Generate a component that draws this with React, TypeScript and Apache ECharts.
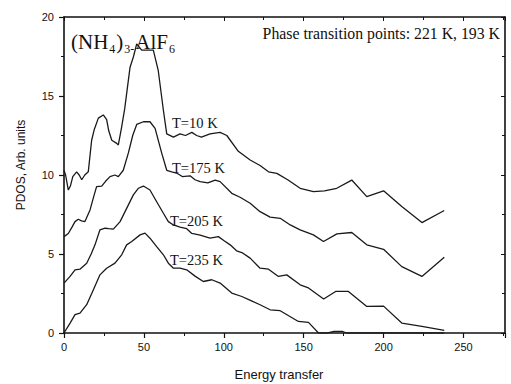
import React, { useEffect, useRef } from "react";
import * as echarts from "echarts";

const xTickLabels = ["0", "50", "100", "150", "200", "250"];
const yTickLabels = ["0", "5", "10", "15", "20"];

const t10: [number, number][] = [
  [0, 10.3], [1, 10.0], [2.7, 9.05], [4, 9.3], [5.5, 9.9], [7.9, 10.2], [9.5, 10.0], [11.1, 9.7],
  [13, 10.0], [15.2, 10.2], [17.3, 12.2], [19, 12.9], [21.5, 13.6], [24.6, 13.8], [26.7, 13.5],
  [28, 12.8], [29.9, 12.2], [33, 12.0], [34, 11.9], [36.1, 13.05], [38, 14.2], [41.3, 16.8],
  [43.5, 17.5], [45.5, 18.3], [48.6, 17.9], [52, 17.9], [55.9, 17.9], [59, 16.6], [62.2, 14.1],
  [64.3, 12.6], [68.5, 12.4], [72.6, 12.6], [76, 12.5], [80, 12.7], [83, 12.5], [86, 12.4],
  [91.4, 12.6], [97.7, 12.7], [101.9, 12.5], [109.1, 11.5], [116.5, 10.95], [122.7, 10.6],
  [128, 10.2], [133.2, 10.1], [140, 9.7], [147.8, 9.16], [156.1, 8.95], [163, 9.0], [170.7, 9.16],
  [180.1, 9.68], [189.5, 8.63], [200, 9.0], [211.4, 8.0], [224, 6.99], [238, 7.75],
];

const t175: [number, number][] = [
  [0, 6.1], [2.7, 6.3], [5, 6.7], [6.9, 7.05], [8.9, 7.2], [11, 7.1], [13.1, 7.05], [16.3, 7.79],
  [18.5, 8.6], [20.4, 9.26], [23.6, 9.3], [26, 9.6], [28.8, 9.9], [31.9, 10.0], [34, 9.9],
  [37.1, 10.3], [40.3, 11.4], [43, 12.5], [45.5, 13.2], [49.7, 13.37], [53.8, 13.37], [57, 12.95],
  [61.2, 11.37], [64.3, 10.3], [67.4, 10.2], [71, 10.1], [74, 9.9], [78.9, 9.95], [82, 9.7],
  [85.2, 9.58], [90, 9.5], [94.6, 9.68], [97.7, 9.58], [105, 8.84], [110.2, 8.59], [116.5, 8.21],
  [122.7, 7.68], [129, 7.33], [135.3, 7.26], [141.6, 6.84], [147.8, 6.53], [156.1, 6.21],
  [162.4, 5.79], [170.8, 6.27], [180.1, 6.36], [189.5, 5.58], [200, 5.3], [211.4, 4.2],
  [224, 3.58], [238, 4.8],
];

const t205: [number, number][] = [
  [0, 3.16], [3.8, 3.58], [6.9, 4.0], [10, 4.04], [14.2, 4.42], [17, 5.0], [19.4, 5.58],
  [22.5, 6.53], [25.7, 6.63], [28, 6.6], [30.9, 6.57], [35.1, 7.05], [38.2, 7.68], [43.4, 8.74],
  [46.5, 9.16], [49.7, 9.3], [53.8, 9.05], [58, 8.31], [62.2, 7.58], [65.3, 7.05], [68.5, 6.84],
  [72.6, 6.7], [76.8, 6.6], [80, 6.3], [85.2, 6.2], [91.4, 6.0], [96.6, 6.1], [100, 5.85],
  [104, 5.58], [108, 5.2], [111.3, 5.09], [116.5, 4.74], [122.7, 4.1], [128, 4.04], [134.2, 3.58],
  [139.4, 3.68], [147.8, 3.05], [153, 2.85], [162.5, 2.15], [170, 2.63], [178, 2.63],
  [189.5, 1.68], [200, 1.7], [211.4, 0.63], [224, 0.42], [238, 0.17],
];

const t235: [number, number][] = [
  [0, 0], [3.8, 0.63], [6.9, 1.16], [10, 1.26], [14.2, 1.79], [18.4, 2.74], [22.5, 3.68],
  [26.7, 4.1], [31.9, 4.42], [36.1, 4.95], [39.2, 5.58], [42.4, 5.79], [47.6, 6.21], [50.7, 6.32],
  [53.8, 6.0], [58, 5.47], [62.2, 4.95], [65.3, 4.42], [68.5, 4.1], [72.6, 4.1], [76.8, 4.0],
  [82, 3.6], [87.2, 3.26], [92.5, 3.37], [97.7, 3.16], [105, 2.53], [111.3, 2.31], [117, 2.05],
  [122.7, 1.79], [129, 1.47], [135.3, 1.41], [146.7, 0.73], [153, 0.67], [159.3, 0], [165, 0],
  [169, 0.1], [174, 0.1], [177, 0], [238, 0],
];

const seriesNames = ["T=10 K", "T=175 K", "T=205 K", "T=235 K"];
const seriesData = [t10, t175, t205, t235];
const labelPos: [number, number][] = [[172, 123], [172, 168], [170, 221], [170, 260]];

const SERIF = "'Liberation Serif', 'Times New Roman', serif";
const SANS = "'Liberation Sans', Arial, sans-serif";

export default function App() {
  const ref = useRef<HTMLDivElement>(null);
  useEffect(() => {
    if (!ref.current) return;
    const chart = echarts.init(ref.current, undefined, { renderer: "svg" });
    const axisLine = { show: true, onZero: false, lineStyle: { color: "#111", width: 1.6 } };
    chart.setOption({
      animation: false,
      backgroundColor: "#fff",
      grid: { left: 64, right: 6, top: 17, bottom: 51, containLabel: false },
      xAxis: [
        {
          type: "value", min: 0, max: 276, interval: 50,
          axisLine, splitLine: { show: false },
          axisTick: { show: true, length: 5, lineStyle: { color: "#111", width: 1.2 } },
          minorTick: { show: true, splitNumber: 2, length: 3, lineStyle: { color: "#111" } },
          axisLabel: {
            margin: 8, color: "#111", fontFamily: SANS, fontSize: 11,
            showMaxLabel: false,
            formatter: (v: number) => (xTickLabels.includes(String(v)) ? String(v) : ""),
          },
        },
        {
          type: "value", min: 0, max: 276, interval: 50, position: "top",
          axisLine, splitLine: { show: false },
          axisTick: { show: true, inside: true, length: 4, lineStyle: { color: "#111" } },
          minorTick: { show: true, splitNumber: 2, length: 3, lineStyle: { color: "#111" } },
          axisLabel: { show: false },
        },
      ],
      yAxis: [
        {
          type: "value", min: 0, max: 20, interval: 5,
          axisLine, splitLine: { show: false },
          axisTick: { show: true, length: 5, lineStyle: { color: "#111", width: 1.2 } },
          minorTick: { show: true, splitNumber: 2, length: 3, lineStyle: { color: "#111" } },
          axisLabel: {
            margin: 10, color: "#111", fontFamily: SANS, fontSize: 11,
            formatter: (v: number) => (yTickLabels.includes(String(v)) ? String(v) : ""),
          },
        },
        {
          type: "value", min: 0, max: 20, interval: 5, position: "right",
          axisLine, splitLine: { show: false },
          axisTick: { show: true, inside: true, length: 4, lineStyle: { color: "#111" } },
          minorTick: { show: true, splitNumber: 2, length: 3, lineStyle: { color: "#111" } },
          axisLabel: { show: false },
        },
      ],
      series: seriesData.map((d, i) => ({
        name: seriesNames[i],
        type: "line",
        data: d,
        showSymbol: false,
        symbol: "none",
        lineStyle: { color: "#1a1a1a", width: 1.3 },
        silent: true,
        z: 3,
      })),
      graphic: [
        {
          type: "text", x: 71, y: 42,
          style: {
            text: "(NH{s|4}){s|3-}AlF{s|6}",
            fontFamily: SERIF, fontSize: 21, fill: "#111",
            verticalAlign: "middle", align: "left",
            rich: { s: { fontFamily: SERIF, fontSize: 12, fill: "#111", padding: [14, 1, 0, 1] } },
          },
        },
        {
          type: "text", x: 500, y: 33,
          style: {
            text: "Phase transition points: 221 K, 193 K",
            fontFamily: SERIF, fontSize: 15.8, fill: "#111",
            align: "right", verticalAlign: "middle",
          },
        },
        ...seriesNames.map((n, i) => ({
          type: "text", x: labelPos[i][0], y: labelPos[i][1],
          style: {
            text: n, fontFamily: SERIF, fontSize: 14.5, fill: "#111",
            align: "left", verticalAlign: "middle",
          },
        })),
        {
          type: "text", x: 21, y: 165, rotation: Math.PI / 2,
          style: {
            text: "PDOS, Arb. units", fontFamily: SANS, fontSize: 12, fill: "#111",
            align: "center", verticalAlign: "middle",
          },
        },
        {
          type: "text", x: 279, y: 374,
          style: {
            text: "Energy transfer", fontFamily: SANS, fontSize: 13, fill: "#111",
            align: "center", verticalAlign: "middle",
          },
        },
      ],
    });
    return () => chart.dispose();
  }, []);
  return (
    <div
      ref={ref}
      style={{ position: "fixed", left: 0, top: 0, width: 511, height: 384, background: "#fff" }}
    />
  );
}
